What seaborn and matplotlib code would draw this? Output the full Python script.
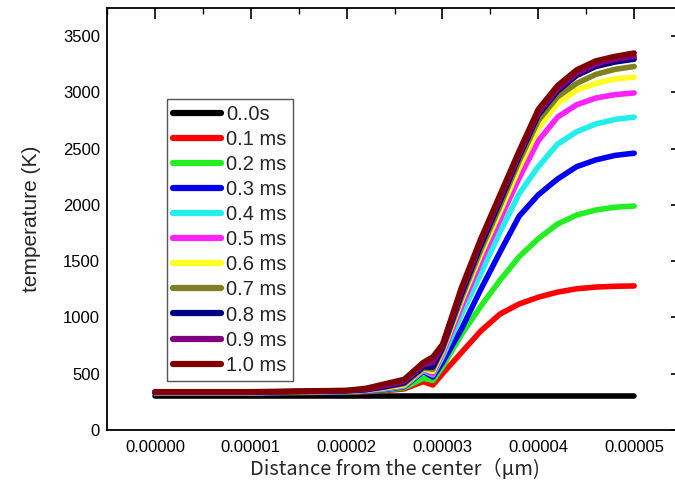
import matplotlib
matplotlib.use("Agg")
import matplotlib.pyplot as plt
import seaborn as sns
import pandas as pd
from matplotlib.ticker import MultipleLocator, FuncFormatter

sns.set_style("white")
plt.rcParams['font.family'] = ['Liberation Sans', 'DejaVu Sans']

# distance from the center
distance = [0.0, 0.00001, 0.00002, 0.000022, 0.000024, 0.000026, 0.000028, 0.000029,
            0.00003, 0.000032, 0.000034, 0.000036, 0.000038, 0.00004, 0.000042,
            0.000044, 0.000046, 0.000048, 0.00005]

labels = ["0..0s", "0.1 ms", "0.2 ms", "0.3 ms", "0.4 ms", "0.5 ms",
          "0.6 ms", "0.7 ms", "0.8 ms", "0.9 ms", "1.0 ms"]

t_00 = [300] * 19
t_01 = [330, 330, 335, 340, 350, 365, 430, 400, 500, 690, 880, 1030, 1120, 1180, 1225, 1255, 1270, 1277, 1280]
t_02 = [330, 330, 338, 345, 355, 375, 460, 440, 560, 850, 1100, 1330, 1540, 1700, 1830, 1910, 1955, 1980, 1990]
t_03 = [331, 331, 340, 348, 360, 385, 520, 470, 600, 900, 1250, 1580, 1900, 2090, 2230, 2340, 2400, 2440, 2460]
t_04 = [332, 332, 342, 350, 365, 390, 530, 490, 650, 1030, 1390, 1760, 2100, 2340, 2540, 2650, 2720, 2760, 2780]
t_05 = [332, 332, 345, 352, 370, 395, 540, 500, 680, 1100, 1500, 1870, 2240, 2570, 2780, 2890, 2950, 2980, 2995]
t_06 = [333, 333, 346, 354, 375, 400, 545, 520, 700, 1150, 1560, 1940, 2330, 2680, 2900, 3020, 3080, 3120, 3135]
t_07 = [333, 333, 347, 356, 380, 410, 550, 540, 715, 1180, 1600, 1990, 2390, 2750, 2960, 3080, 3160, 3205, 3230]
t_08 = [335, 335, 348, 358, 385, 420, 560, 560, 730, 1210, 1640, 2030, 2430, 2800, 3010, 3150, 3230, 3270, 3295]
t_09 = [336, 336, 350, 362, 395, 430, 580, 600, 745, 1240, 1670, 2060, 2450, 2820, 3030, 3170, 3250, 3295, 3320]
t_10 = [340, 340, 352, 370, 410, 450, 600, 650, 760, 1270, 1700, 2090, 2480, 2850, 3060, 3200, 3280, 3320, 3350]

series = [t_00, t_01, t_02, t_03, t_04, t_05, t_06, t_07, t_08, t_09, t_10]
colors = ["#000000", "#ff0000", "#22ee22", "#0000ee", "#22eeee", "#ff22ff",
          "#ffff22", "#808020", "#000080", "#800080", "#800000"]

rows = []
for lab, vals in zip(labels, series):
    for d, v in zip(distance, vals):
        rows.append({"distance": d, "temperature": v, "time": lab})
df = pd.DataFrame(rows)

fig = plt.figure(figsize=(6.75, 4.93), dpi=100)
ax = fig.add_axes([0.1585, 0.1278, 0.852, 0.856])

sns.lineplot(data=df, x="distance", y="temperature", hue="time", hue_order=labels,
             palette=dict(zip(labels, colors)), sort=False, lw=4.0, ax=ax,
             legend=True, solid_capstyle="round", solid_joinstyle="round")

ax.set_xlim(-0.000005, 0.000055)
ax.set_ylim(0, 3750)

ax.xaxis.set_major_locator(MultipleLocator(0.00001))
ax.xaxis.set_minor_locator(MultipleLocator(0.000005))
ax.yaxis.set_major_locator(MultipleLocator(500))
ax.yaxis.set_minor_locator(MultipleLocator(250))
ax.xaxis.set_major_formatter(FuncFormatter(lambda v, p: f"{v:.5f}"))
ax.yaxis.set_major_formatter(FuncFormatter(lambda v, p: f"{int(round(v))}"))

ax.tick_params(which="both", direction="in", top=True, right=True, colors="black")
ax.tick_params(which="major", length=8, width=1.2, labelsize=12)
ax.tick_params(which="minor", length=4, width=1.0)
ax.tick_params(axis="y", which="major", pad=5)
ax.tick_params(axis="x", which="major", pad=7)
for s in ax.spines.values():
    s.set_color("black")
    s.set_linewidth(1.3)

ax.set_xlabel("Distance from the center（μm)", fontsize=14.5,
              family=['Noto Sans CJK JP', 'DejaVu Sans'], labelpad=3)
ax.set_ylabel("temperature (K)", fontsize=15, labelpad=16)

handles, labs = ax.get_legend_handles_labels()
for h in handles:
    h.set_linewidth(4.5)
leg = ax.legend(handles, labs, loc="upper left", bbox_to_anchor=(0.104, 0.784),
                fontsize=14.5, frameon=True, fancybox=False, framealpha=1,
                edgecolor="#555555", handlelength=2.4, handletextpad=0.25,
                labelspacing=0.3, borderpad=0.3, borderaxespad=0)
leg.get_frame().set_linewidth(1.0)

fig.savefig("out.png", dpi=100)
